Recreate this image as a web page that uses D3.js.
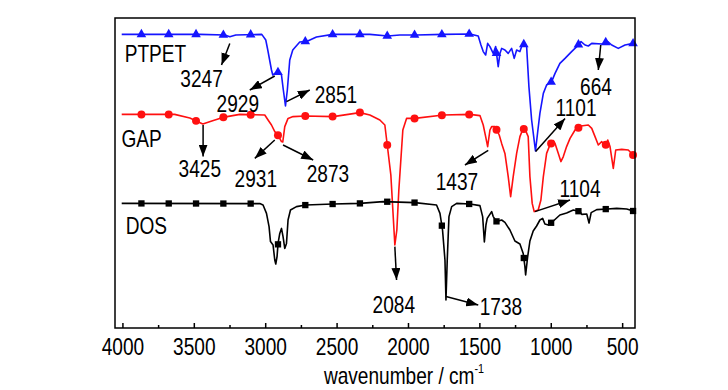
<!DOCTYPE html>
<html>
<head>
<meta charset="utf-8">
<script src="https://cdn.jsdelivr.net/npm/d3@7"></script>
<style>
body { margin: 0; background: #fff; }
text { font-family: 'Liberation Sans', Arial, sans-serif; }
</style>
</head>
<body>
<div id="grafica"></div>
<script>
// espectros FTIR (numero de onda cm-1, transmitancia con desplazamiento, unidades arbitrarias)
var ptpetX = [4005, 3458, 3283, 3248, 3206, 3024, 2996, 2982, 2956, 2947, 2926, 2905, 2886, 2873, 2858, 2845, 2828, 2807, 2758, 2710, 2641, 2526, 2267, 2141, 2057, 1940, 1755, 1566, 1508, 1489, 1473, 1456, 1442, 1426, 1403, 1386, 1368, 1356, 1344, 1321, 1298, 1274, 1256, 1239, 1216, 1204, 1186, 1169, 1153, 1134, 1107, 1090, 1076, 1052, 1029, 994, 970, 936, 900, 854, 818, 788, 760, 737, 713, 643, 601, 573, 527, 480, 422];
var ptpetY = [146.8, 146.8, 146.5, 145.6, 146.5, 146.8, 144, 139, 129, 126.5, 127.5, 128, 126.5, 119, 111, 119, 134, 139, 143, 143.3, 145.5, 146.8, 146.8, 146, 146.5, 146.5, 146.8, 147, 146, 141.5, 138.2, 136.5, 142.3, 140.7, 137.3, 140.7, 130.7, 137.3, 139.8, 139, 137.3, 139.8, 134.8, 139, 138.2, 140.7, 142, 140.7, 120.7, 104, 88.5, 99, 107.3, 117.3, 121.5, 123.2, 127.3, 132.3, 134.8, 138.2, 140.7, 143.2, 141.5, 141, 142.3, 142, 143.2, 141.5, 139.8, 141.5, 142.3];

var gapX = [4005, 3634, 3528, 3437, 3374, 3297, 3178, 3003, 2980, 2956, 2933, 2914, 2886, 2877, 2863, 2840, 2805, 2716, 2524, 2337, 2267, 2197, 2162, 2141, 2120, 2106, 2092, 2078, 2064, 2050, 2036, 2010, 1952, 1753, 1566, 1496, 1473, 1456, 1442, 1426, 1414, 1391, 1361, 1344, 1321, 1298, 1281, 1263, 1239, 1216, 1193, 1176, 1158, 1146, 1130, 1116, 1088, 1069, 1052, 1029, 1006, 982, 970, 947, 929, 912, 889, 865, 830, 788, 737, 713, 690, 667, 643, 620, 601, 585, 562, 545, 503, 457, 417];
var gapY = [106.8, 106.8, 105, 102, 103.5, 105.3, 106.8, 106.5, 104, 101.5, 98.2, 96.8, 93.2, 93, 100.7, 104.8, 105.7, 106, 105.7, 107.7, 106.5, 104, 101.5, 89, 76.5, 59, 41.5, 49, 69, 84, 99, 104.8, 104.8, 106.5, 106.8, 106.2, 101.5, 95.7, 90.7, 99, 100.7, 100.7, 96.5, 92.3, 87.3, 75.7, 65.7, 75.7, 87.3, 95.7, 99.8, 98.7, 95.7, 75.7, 62.3, 58.2, 59, 64, 75.7, 87.3, 91.5, 93.7, 92.3, 87.3, 83.2, 85.7, 90.7, 94.8, 99, 101, 101.5, 99.8, 95.7, 91.5, 93.2, 90.7, 94, 90.7, 79.8, 89, 89.3, 89, 86];

var dosX = [4005, 3038, 3015, 2991, 2973, 2963, 2945, 2933, 2926, 2917, 2910, 2898, 2886, 2875, 2863, 2851, 2840, 2823, 2781, 2716, 2524, 2337, 2174, 1952, 1800, 1776, 1758, 1741, 1734, 1725, 1713, 1694, 1659, 1566, 1496, 1477, 1465, 1454, 1445, 1414, 1403, 1379, 1344, 1321, 1286, 1251, 1216, 1193, 1181, 1176, 1162, 1146, 1123, 1099, 1076, 1057, 1041, 1017, 982, 936, 889, 842, 795, 783, 748, 732, 717, 678, 603, 538, 468, 410];
var dosY = [62.3, 62.2, 61.5, 57.3, 50.7, 43.2, 41.5, 34, 32, 35.7, 42.3, 47.3, 49.8, 45.7, 39.8, 42.3, 54, 59, 60.7, 61.5, 62, 62.3, 63.2, 62.7, 61.5, 57.3, 49, 34, 14, 34, 55.7, 60.7, 62.3, 62, 61.2, 55.7, 43, 51.5, 54.8, 58.2, 55.7, 53.2, 54, 52.8, 49, 43.5, 42, 37.3, 30.7, 26.5, 35.5, 43.5, 48.5, 51, 54, 54.8, 52, 51.5, 53.5, 56.5, 57.5, 59, 58.2, 56.8, 57, 52.5, 57.7, 59.2, 59.5, 59.8, 59.5, 58.2];

var nombres = ["PTPET", "GAP", "DOS"];
var colores = ["#1515ff", "#ff1010", "#000000"];
var simbolos = [d3.symbolTriangle, d3.symbolCircle, d3.symbolSquare];

var marcasMayores = [4000, 3500, 3000, 2500, 2000, 1500, 1000, 500];
var marcasMenores = [3750, 3250, 2750, 2250, 1750, 1250, 750];

// picos marcados: texto, inicio de flecha (w, T), fin de flecha (w, T), etiqueta (w, T)
var picos = [
  ["3247", 3248, 142.3, 3306, 131.5, 3446, 120.3],
  ["2929", 2933, 126, 3108, 119, 3192, 108.2],
  ["2851", 2851, 113.2, 2688, 119, 2505, 112.3],
  ["3425", 3435, 101.5, 3435, 85.7, 3458, 75.7],
  ["2931", 2933, 94, 3073, 84.8, 3066, 70.7],
  ["2873", 2875, 91.5, 2664, 84, 2561, 73.2],
  ["1437", 1438, 88.8, 1601, 81.5, 1657, 69],
  ["1101", 1106, 88.2, 900, 104.8, 823, 106],
  ["664", 650, 141.5, 667, 129, 683, 116.5],
  ["1104", 1111, 58.2, 865, 64, 795, 65.7],
  ["2084", 2092, 40.7, 2080, 24, 2099, 7.3],
  ["1738", 1734, 15.7, 1508, 11.5, 1349, 6.5]
];
// posicion de los nombres de cada curva (w, T)
var nombresPos = [[3984, 133.2], [4007, 90.7], [3977, 47]];

var angosto = 0.83; // letra estrecha como en el original

var svg = d3.select("#grafica").append("svg")
  .attr("width", 728)
  .attr("height", 390);

var x = d3.scaleLinear().domain([4052, 410]).range([115, 635]);
var y = d3.scaleLinear().domain([0, 155]).range([328, 18]);

var series = [[ptpetX, ptpetY], [gapX, gapY], [dosX, dosY]];

function texto(px, py, str, ancla) {
  return svg.append("text")
    .attr("transform", "translate(" + px + "," + py + ") scale(" + angosto + ",1)")
    .attr("text-anchor", ancla)
    .attr("font-size", 23)
    .text(str);
}

// interpolar T en un numero de onda (x descendente)
function valorEn(xs, ys, w) {
  for (var i = 0; i < xs.length - 1; i++) {
    if (w <= xs[i] && w >= xs[i + 1]) {
      var t = (xs[i] - w) / (xs[i] - xs[i + 1]);
      return ys[i] + t * (ys[i + 1] - ys[i]);
    }
  }
  return ys[ys.length - 1];
}

var linea = d3.line().x(d => x(d[0])).y(d => y(d[1]));
var posSimbolos = d3.range(19).map(k => 3867 - 191.3 * k);

series.forEach(function (s, i) {
  var pts = s[0].map((w, j) => [w, s[1][j]]);
  svg.append("path")
    .attr("d", linea(pts))
    .attr("fill", "none")
    .attr("stroke", colores[i])
    .attr("stroke-width", 1.6)
    .attr("stroke-linejoin", "round");
  svg.selectAll(null).data(posSimbolos).enter().append("path")
    .attr("d", d3.symbol().type(simbolos[i]).size(i == 1 ? 50 : 40))
    .attr("transform", w => "translate(" + x(w) + "," + y(valorEn(s[0], s[1], w)) + ")")
    .attr("fill", colores[i]);
  texto(x(nombresPos[i][0]), y(nombresPos[i][1]), nombres[i], "start");
});

// punta de flecha
svg.append("defs").append("marker")
  .attr("id", "punta")
  .attr("viewBox", "0 0 12 9")
  .attr("refX", 12).attr("refY", 4.5)
  .attr("markerWidth", 12).attr("markerHeight", 9)
  .attr("markerUnits", "userSpaceOnUse")
  .attr("orient", "auto")
  .append("path").attr("d", "M0,0L12,4.5L0,9Z").attr("fill", "#000");

picos.forEach(function (p) {
  svg.append("line")
    .attr("x1", x(p[1])).attr("y1", y(p[2]))
    .attr("x2", x(p[3])).attr("y2", y(p[4]))
    .attr("stroke", "#000")
    .attr("stroke-width", 1.5)
    .attr("marker-end", "url(#punta)");
  texto(x(p[5]), y(p[6]), p[0], "middle");
});

// marco
svg.append("rect")
  .attr("x", 115).attr("y", 18)
  .attr("width", 520).attr("height", 310)
  .attr("fill", "none")
  .attr("stroke", "#000")
  .attr("stroke-width", 1.5);

var ejeX = svg.append("g")
  .attr("transform", "translate(0,328)")
  .call(d3.axisBottom(x).tickValues(marcasMayores).tickSize(-5).tickPadding(11).tickFormat(d3.format("d")));
ejeX.select(".domain").remove();
ejeX.selectAll("line").attr("stroke-width", 1.5);
ejeX.selectAll("text")
  .attr("font-size", 23).attr("font-family", null).attr("fill", "#000")
  .attr("transform", "scale(" + angosto + ",1)");

var menores = svg.append("g")
  .attr("transform", "translate(0,328)")
  .call(d3.axisBottom(x).tickValues(marcasMenores).tickSize(-3).tickFormat(""));
menores.select(".domain").remove();
menores.selectAll("line").attr("stroke-width", 1.5);

var titulo = texto(404, 384, "", "middle");
titulo.append("tspan").text("wavenumber / cm");
titulo.append("tspan").attr("font-size", 13).attr("dy", -11).text("-1");
</script>
</body>
</html>
